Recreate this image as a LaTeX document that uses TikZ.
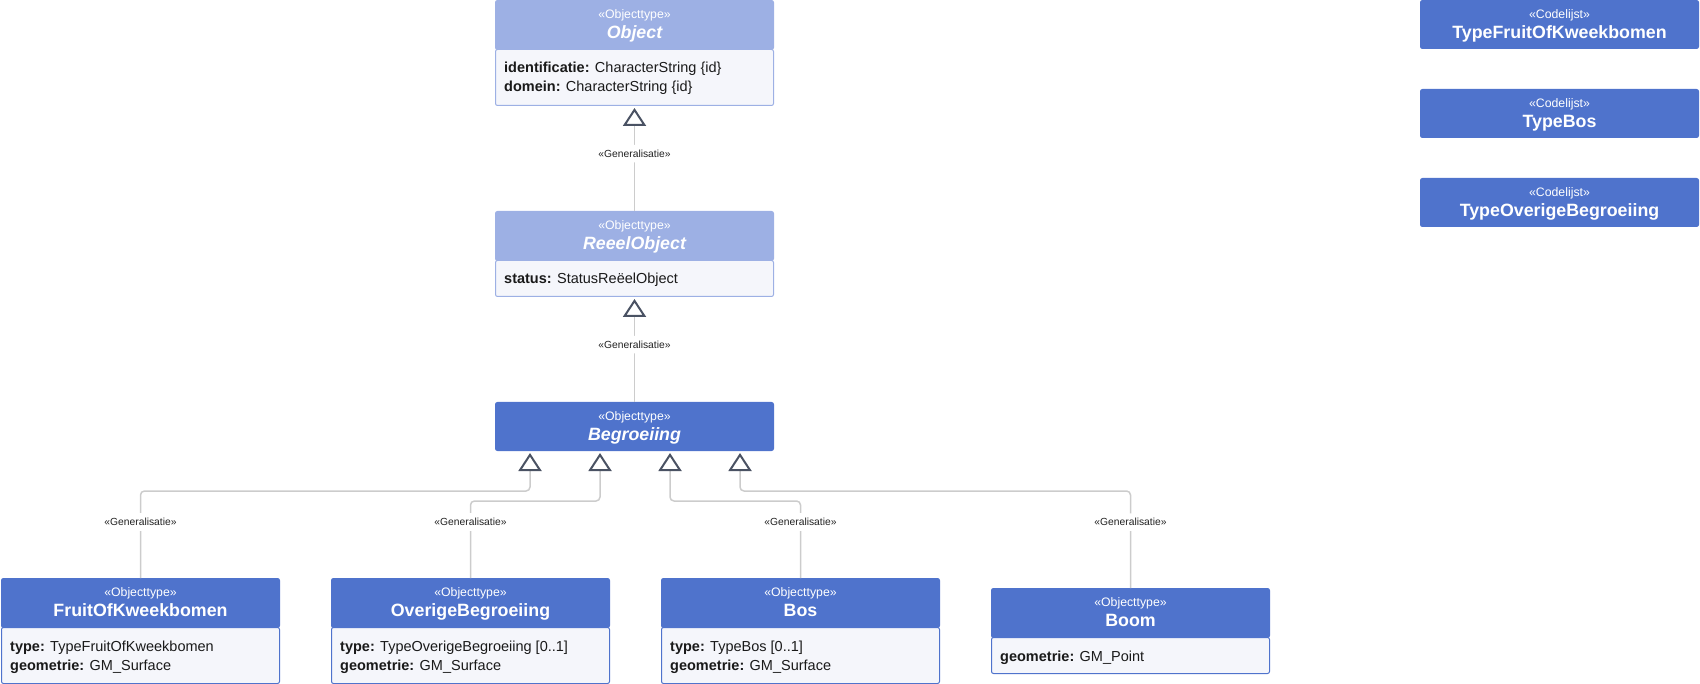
\documentclass[tikz,border=0pt]{standalone}
\usepackage{fontspec}
\setmainfont{Liberation Sans}
\usetikzlibrary{arrows.meta,calc}
\definecolor{dk}{RGB}{79,115,204}
\definecolor{lt}{RGB}{157,176,228}
\definecolor{abg}{RGB}{245,246,251}
\definecolor{ln}{RGB}{204,204,204}
\definecolor{tri}{RGB}{74,82,99}
\definecolor{lbltxt}{RGB}{34,34,34}
\definecolor{atxt}{RGB}{26,26,26}
\tikzset{
  hdrD/.style={fill=dk, draw=dk, line width=1pt, minimum width=278pt, anchor=north west, inner sep=0pt, rounded corners=2pt},
  hdrL/.style={hdrD, fill=lt, draw=lt},
  attrD/.style={fill=abg, draw=dk, line width=1pt, minimum width=278pt, anchor=north west, inner sep=0pt, rounded corners=2pt},
  attrL/.style={attrD, draw=lt},
  stereo/.style={text=white, font=\fontsize{12.3}{14}\selectfont, inner sep=0pt, anchor=base},
  cname/.style={text=white, font=\fontsize{17.8}{20}\selectfont\bfseries, inner sep=0pt, anchor=base},
  cnamei/.style={cname, font=\fontsize{17.8}{20}\selectfont\bfseries\itshape},
  attxt/.style={text=atxt, font=\fontsize{14.5}{16}\selectfont, inner sep=0pt, anchor=base west},
  genlbl/.style={fill=white, text=lbltxt, font=\fontsize{10.3}{12}\selectfont, inner xsep=2pt, inner ysep=5pt},
  genline/.style={draw=ln, line width=1.5pt, rounded corners=4pt, -{Triangle[length=18pt,width=23pt,line width=2pt,color=tri,fill=white]}, shorten >=2pt},
}
\begin{document}
\begin{tikzpicture}[x=1pt,y=-1pt]
\useasboundingbox (0,0) rectangle (1700,684);

% Object
\node[hdrL, minimum height=49pt] (objH) at (495,0) {};
\node[attrL, minimum height=56pt] (objA) at (495,49) {};
\node[stereo] at ([yshift=-18.4pt]objH.north) {«Objecttype»};
\node[cnamei] at ([yshift=-38.3pt]objH.north) {Object};
\node[attxt] at ([xshift=9pt,yshift=-24pt]objA.north west) {\textbf{identificatie:} CharacterString \{id\}};
\node[attxt] at ([xshift=9pt,yshift=-43pt]objA.north west) {\textbf{domein:} CharacterString \{id\}};

% ReeelObject
\node[hdrL, minimum height=49pt] (reeelH) at (495,211) {};
\node[attrL, minimum height=36pt] (reeelA) at (495,260) {};
\node[stereo] at ([yshift=-18.4pt]reeelH.north) {«Objecttype»};
\node[cnamei] at ([yshift=-38.3pt]reeelH.north) {ReeelObject};
\node[attxt] at ([xshift=9pt,yshift=-24pt]reeelA.north west) {\textbf{status:} StatusReëelObject};

% Begroeiing
\node[hdrD, minimum height=48pt] (begrH) at (495,402) {};
\node[stereo] at ([yshift=-18.4pt]begrH.north) {«Objecttype»};
\node[cnamei] at ([yshift=-38.3pt]begrH.north) {Begroeiing};

% FruitOfKweekbomen
\node[hdrD, minimum height=49pt] (fruitH) at (1,578) {};
\node[attrD, minimum height=56pt] (fruitA) at (1,627) {};
\node[stereo] at ([yshift=-18.4pt]fruitH.north) {«Objecttype»};
\node[cname] at ([yshift=-38.3pt]fruitH.north) {FruitOfKweekbomen};
\node[attxt] at ([xshift=9pt,yshift=-24pt]fruitA.north west) {\textbf{type:} TypeFruitOfKweekbomen};
\node[attxt] at ([xshift=9pt,yshift=-43pt]fruitA.north west) {\textbf{geometrie:} GM\_Surface};

% OverigeBegroeiing
\node[hdrD, minimum height=49pt] (overH) at (331,578) {};
\node[attrD, minimum height=56pt] (overA) at (331,627) {};
\node[stereo] at ([yshift=-18.4pt]overH.north) {«Objecttype»};
\node[cname] at ([yshift=-38.3pt]overH.north) {OverigeBegroeiing};
\node[attxt] at ([xshift=9pt,yshift=-24pt]overA.north west) {\textbf{type:} TypeOverigeBegroeiing [0..1]};
\node[attxt] at ([xshift=9pt,yshift=-43pt]overA.north west) {\textbf{geometrie:} GM\_Surface};

% Bos
\node[hdrD, minimum height=49pt] (bosH) at (661,578) {};
\node[attrD, minimum height=56pt] (bosA) at (661,627) {};
\node[stereo] at ([yshift=-18.4pt]bosH.north) {«Objecttype»};
\node[cname] at ([yshift=-38.3pt]bosH.north) {Bos};
\node[attxt] at ([xshift=9pt,yshift=-24pt]bosA.north west) {\textbf{type:} TypeBos [0..1]};
\node[attxt] at ([xshift=9pt,yshift=-43pt]bosA.north west) {\textbf{geometrie:} GM\_Surface};

% Boom
\node[hdrD, minimum height=49pt] (boomH) at (991,588) {};
\node[attrD, minimum height=36pt] (boomA) at (991,637) {};
\node[stereo] at ([yshift=-18.4pt]boomH.north) {«Objecttype»};
\node[cname] at ([yshift=-38.3pt]boomH.north) {Boom};
\node[attxt] at ([xshift=9pt,yshift=-24pt]boomA.north west) {\textbf{geometrie:} GM\_Point};

% Codelijsten
\node[hdrD, minimum height=48pt] (cl1) at (1420,0) {};
\node[stereo] at ([yshift=-18.4pt]cl1.north) {«Codelijst»};
\node[cname] at ([yshift=-38.3pt]cl1.north) {TypeFruitOfKweekbomen};
\node[hdrD, minimum height=48pt] (cl2) at (1420,89) {};
\node[stereo] at ([yshift=-18.4pt]cl2.north) {«Codelijst»};
\node[cname] at ([yshift=-38.3pt]cl2.north) {TypeBos};
\node[hdrD, minimum height=48pt] (cl3) at (1420,178) {};
\node[stereo] at ([yshift=-18.4pt]cl3.north) {«Codelijst»};
\node[cname] at ([yshift=-38.3pt]cl3.north) {TypeOverigeBegroeiing};

% Generalisations
\draw[genline] (reeelH.north) -- node[genlbl, pos=0.547] {«Generalisatie»} (objA.south);
\draw[genline] (begrH.north) -- node[genlbl, pos=0.547] {«Generalisatie»} (reeelA.south);

\coordinate (busA) at (0,491);
\coordinate (busB) at (0,501);
\draw[genline] (fruitH.north) -- node[genlbl, pos=0.644] {«Generalisatie»} (fruitH.north |- busA) -| ([xshift=35pt]begrH.south west);
\draw[genline] (overH.north) -- node[genlbl, pos=0.727] {«Generalisatie»} (overH.north |- busB) -| ([xshift=105pt]begrH.south west);
\draw[genline] (bosH.north) -- node[genlbl, pos=0.727] {«Generalisatie»} (bosH.north |- busB) -| ([xshift=175pt]begrH.south west);
\draw[genline] (boomH.north) -- node[genlbl, pos=0.68] {«Generalisatie»} (boomH.north |- busA) -| ([xshift=245pt]begrH.south west);
\end{tikzpicture}
\end{document}
